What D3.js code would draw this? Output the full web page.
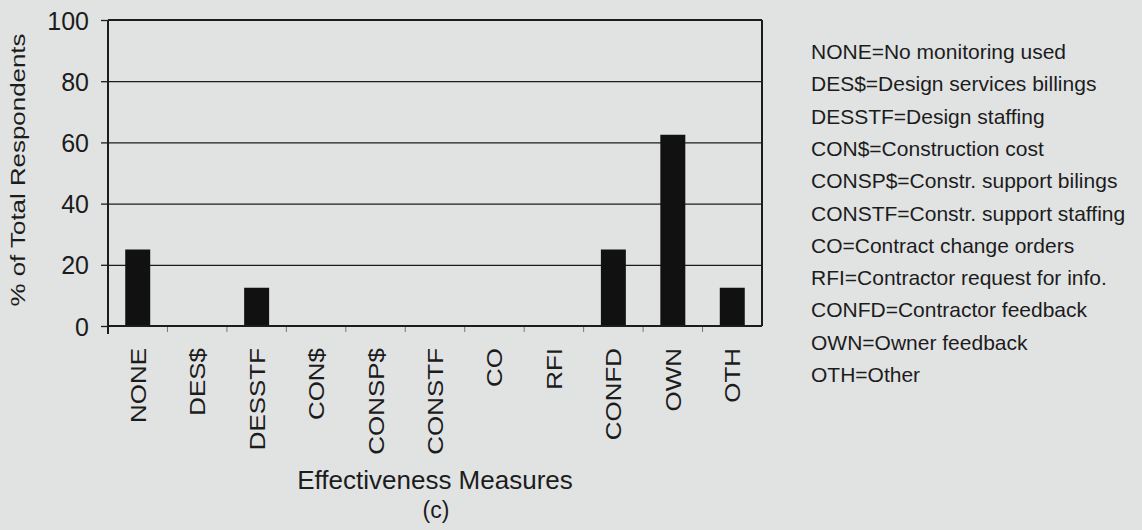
<!DOCTYPE html>
<html>
<head>
<meta charset="utf-8">
<script src="https://cdn.jsdelivr.net/npm/d3@7"></script>
<style>
  html, body { margin: 0; padding: 0; background: #e1e3e3; }
  svg { display: block; font-family: "Liberation Sans", Arial, sans-serif; }
</style>
</head>
<body>
<svg id="chart" width="1142" height="530"></svg>
<script>
const categories = ["NONE", "DES$", "DESSTF", "CON$", "CONSP$", "CONSTF", "CO", "RFI", "CONFD", "OWN", "OTH"];
const values = [25, 0, 12.5, 0, 0, 0, 0, 0, 25, 62.5, 12.5];
const yTicks = [0, 20, 40, 60, 80, 100];
const legendLines = [
  "NONE=No monitoring used",
  "DES$=Design services billings",
  "DESSTF=Design staffing",
  "CON$=Construction cost",
  "CONSP$=Constr. support bilings",
  "CONSTF=Constr. support staffing",
  "CO=Contract change orders",
  "RFI=Contractor request for info.",
  "CONFD=Contractor feedback",
  "OWN=Owner feedback",
  "OTH=Other"
];
const yTitle = "% of Total Respondents";
const xTitle = "Effectiveness Measures";
const caption = "(c)";

const L = 108, R = 762, T = 20, B = 326;
const ink = "#1c1c1c";
const svg = d3.select("#chart");

svg.append("rect").attr("width", 1142).attr("height", 530).attr("fill", "#e1e3e3");

const x = d3.scaleBand().domain(categories).range([L, R]).paddingInner(0.58).paddingOuter(0.29);
const y = d3.scaleLinear().domain([0, 100]).range([B, T]);

// gridlines
const grid = svg.append("g").attr("transform", `translate(${L},0)`)
  .call(d3.axisLeft(y).tickValues(yTicks.filter(v => v > 0 && v < 100)).tickSize(-(R - L)).tickFormat(""));
grid.select(".domain").remove();
grid.selectAll("line").attr("stroke", ink).attr("stroke-width", 1.3);

// frame top & right
svg.append("line").attr("x1", L).attr("x2", R).attr("y1", y(100)).attr("y2", y(100)).attr("stroke", ink).attr("stroke-width", 2);
svg.append("line").attr("x1", R).attr("x2", R).attr("y1", y(100)).attr("y2", y(0)).attr("stroke", ink).attr("stroke-width", 2);

// bars
svg.append("g").selectAll("rect").data(categories).join("rect")
  .attr("x", d => x(d))
  .attr("width", x.bandwidth())
  .attr("y", (d, i) => y(values[i]))
  .attr("height", (d, i) => y(0) - y(values[i]))
  .attr("fill", "#111");

// category boundary ticks
svg.append("g").selectAll("line").data(categories.slice(1)).join("line")
  .attr("x1", d => x(d) - x.step() * x.paddingInner() / 2)
  .attr("x2", d => x(d) - x.step() * x.paddingInner() / 2)
  .attr("y1", B).attr("y2", B + 6)
  .attr("stroke", "#777").attr("stroke-width", 1);

// x axis
const xa = svg.append("g").attr("transform", `translate(0,${B})`)
  .call(d3.axisBottom(x).tickSize(0).tickPadding(0));
xa.select(".domain").attr("d", `M${L},0H${R}`).attr("stroke", ink).attr("stroke-width", 2.2);
xa.selectAll("text")
  .attr("x", 0).attr("y", 8).attr("dy", null)
  .attr("text-anchor", "end")
  .attr("transform", "translate(0,22) rotate(-90) scale(1.18,1)")
  .attr("font-size", 22)
  .attr("font-family", "Liberation Sans, Arial, sans-serif")
  .attr("fill", ink);

// y axis
const ya = svg.append("g").attr("transform", `translate(${L},0)`)
  .call(d3.axisLeft(y).tickValues(yTicks).tickSize(7).tickPadding(12));
ya.select(".domain").attr("d", `M0,${T}V${B + 8}`).attr("stroke", ink).attr("stroke-width", 2);
ya.selectAll("line").attr("stroke", ink).attr("stroke-width", 1.3);
ya.selectAll("text")
  .attr("font-size", 25)
  .attr("font-family", "Liberation Sans, Arial, sans-serif")
  .attr("dy", "0.36em")
  .attr("fill", ink);

// y title
svg.append("text")
  .attr("transform", `translate(25,170) rotate(-90)`)
  .attr("text-anchor", "middle")
  .attr("font-size", 20)
  .attr("textLength", 273)
  .attr("lengthAdjust", "spacingAndGlyphs")
  .attr("fill", ink)
  .text(yTitle);

// x title and caption
svg.append("text").attr("x", (L + R) / 2).attr("y", 489)
  .attr("text-anchor", "middle").attr("font-size", 26).attr("fill", ink).text(xTitle);
svg.append("text").attr("x", (L + R) / 2 + 1).attr("y", 518)
  .attr("text-anchor", "middle").attr("font-size", 23).attr("fill", ink).text(caption);

// legend
svg.append("g").selectAll("text").data(legendLines).join("text")
  .attr("x", 811)
  .attr("y", (d, i) => 59 + i * 32.3)
  .attr("font-size", 21)
  .attr("fill", ink)
  .text(d => d);
</script>
</body>
</html>
